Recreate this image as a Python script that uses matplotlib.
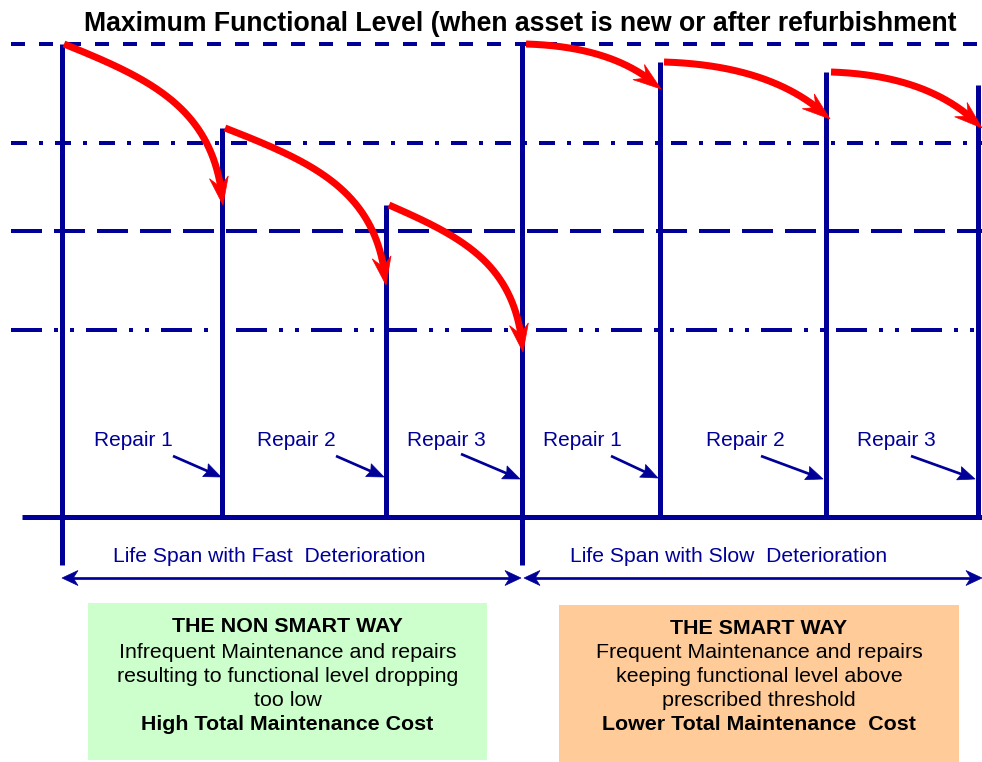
import numpy as np
import matplotlib.pyplot as plt
from matplotlib.patches import Polygon, Rectangle

plt.rcParams['font.family'] = ['Liberation Sans', 'DejaVu Sans']
plt.rcParams['lines.scale_dashes'] = False

NAVY = '#000099'
RED = '#ff0000'
PT = 0.72  # points per pixel at 100 dpi

# ---- diagram data (canvas units = pixels, y grows downward) ----
title = "Maximum Functional Level (when asset is new or after refurbishment"

threshold_y = [44, 143, 231, 330]
threshold_dash = [(14, 14), (16, 12, 4, 12), (31, 12), (31, 12, 4, 12, 4, 12)]

baseline_y = 517
post_x = [62, 222, 386, 522, 660, 826, 978]
post_top = [44, 128, 205, 42, 62, 72, 85]
post_bottom = [565, 517, 517, 565, 517, 517, 517]

# deterioration curves: start point -> arrow tip
curve_start_x = [64, 225, 389, 526, 664, 831]
curve_start_y = [44, 128, 205, 44, 62, 72]
curve_end_x = [223, 386, 523, 661, 830, 982]
curve_end_y = [205, 285, 352, 89, 119, 128]
fast_shape = [(0.55, 0.22), (0.95, 0.40)]
slow_shape = [(0.45, 0.04), (0.78, 0.38)]

repair_labels = ["Repair 1", "Repair 2", "Repair 3", "Repair 1", "Repair 2", "Repair 3"]
repair_label_x = [133, 296, 446, 582, 745, 896]
repair_label_y = 441
repair_from = [(173, 456), (336, 456), (461, 454), (611, 456), (761, 456), (911, 456)]
repair_to = [(221, 477), (384, 477), (520, 479), (658, 478), (823, 479), (975, 479)]

span_labels = ["Life Span with Fast  Deterioration", "Life Span with Slow  Deterioration"]
span_label_x = [269, 729]
span_label_y = 556
span_y = 578
span_x0 = [62, 524]
span_x1 = [521, 982]

box_x = [88, 559]
box_y = [603, 605]
box_w = [399, 400]
box_h = [157, 157]
box_colors = ['#ccffcc', '#ffcc99']
box_lines = [
    ["THE NON SMART WAY", "Infrequent Maintenance and repairs",
     "resulting to functional level dropping", "too low",
     "High Total Maintenance Cost"],
    ["THE SMART WAY", "Frequent Maintenance and repairs",
     "keeping functional level above", "prescribed threshold",
     "Lower Total Maintenance  Cost"],
]
box_line_y = [[627, 652, 676, 700, 724], [629, 653, 677, 701, 725]]
box_bold = [True, False, False, False, True]

fig = plt.figure(figsize=(9.82, 7.62), dpi=100)
ax = fig.add_axes([0, 0, 1, 1])
ax.set_xlim(0, 982)
ax.set_ylim(762, 0)
ax.axis('off')


def arrow_head(tip, direction, length, width, notch, color, z):
    d = np.asarray(direction, float)
    d /= np.linalg.norm(d)
    n = np.array([-d[1], d[0]])
    tip = np.asarray(tip, float)
    base = tip - d * length
    pts = [tip, base + n * width / 2, tip - d * length * (1 - notch), base - n * width / 2]
    ax.add_patch(Polygon(pts, closed=True, fc=color, ec=color, lw=0.5, zorder=z))


def straight_arrow(p0, p1, lw_px, length, width, notch, color, z=5, both=False):
    p0 = np.asarray(p0, float)
    p1 = np.asarray(p1, float)
    d = (p1 - p0) / np.linalg.norm(p1 - p0)
    a = p0 + d * length * 0.6 if both else p0
    b = p1 - d * length * 0.6
    ax.plot([a[0], b[0]], [a[1], b[1]], color=color, lw=lw_px * PT,
            solid_capstyle='butt', zorder=z)
    arrow_head(p1, d, length, width, notch, color, z)
    if both:
        arrow_head(p0, -d, length, width, notch, color, z)


def bezier(p0, p1, p2, p3, t):
    t = t[:, None]
    return ((1 - t) ** 3 * p0 + 3 * (1 - t) ** 2 * t * p1
            + 3 * (1 - t) * t ** 2 * p2 + t ** 3 * p3)


# threshold lines
for y, dash in zip(threshold_y, threshold_dash):
    ax.plot([11, 982], [y, y], color=NAVY, lw=4 * PT,
            dashes=[v * PT for v in dash], zorder=2)

# baseline and posts
ax.plot([22, 982], [baseline_y, baseline_y], color=NAVY, lw=5 * PT,
        solid_capstyle='butt', zorder=3)
for x, top, bot in zip(post_x, post_top, post_bottom):
    ax.plot([x, x], [top, bot], color=NAVY, lw=5 * PT,
            solid_capstyle='butt', zorder=3)

# deterioration curves
head_len, head_w, head_notch = 28, 19, 0.35
for i in range(len(curve_start_x)):
    p0 = np.array([curve_start_x[i], curve_start_y[i]], float)
    p3 = np.array([curve_end_x[i], curve_end_y[i]], float)
    shape = fast_shape if i < 3 else slow_shape
    delta = p3 - p0
    p1 = p0 + delta * np.array(shape[0])
    p2 = p0 + delta * np.array(shape[1])
    pts = bezier(p0, p1, p2, p3, np.linspace(0, 1, 400))
    dist = np.linalg.norm(pts - p3, axis=1)
    keep = dist >= head_len * 0.6
    line = pts[keep]
    ax.plot(line[:, 0], line[:, 1], color=RED, lw=7 * PT,
            solid_capstyle='butt', solid_joinstyle='round', zorder=6)
    idx = np.argmax(dist < head_len)
    arrow_head(p3, p3 - pts[idx], head_len, head_w, head_notch, RED, 6)

# repair labels and pointers
for lab, x, a, b in zip(repair_labels, repair_label_x, repair_from, repair_to):
    ax.text(x, repair_label_y, lab, color=NAVY, fontsize=15,
            ha='center', va='center')
    straight_arrow(a, b, 2.7, 17, 14, 0.15, NAVY)

# life span arrows
for lab, x, x0, x1 in zip(span_labels, span_label_x, span_x0, span_x1):
    ax.text(x, span_label_y, lab, color=NAVY, fontsize=15.2,
            ha='center', va='center')
    straight_arrow((x0, span_y), (x1, span_y), 2.7, 16, 15, 0.3, NAVY, both=True)

# summary boxes
for bx, by, bw, bh, col, lines, ys in zip(box_x, box_y, box_w, box_h,
                                          box_colors, box_lines, box_line_y):
    ax.add_patch(Rectangle((bx, by), bw, bh, fc=col, ec='none', zorder=1))
    cx = bx + bw / 2
    for txt, y, bold in zip(lines, ys, box_bold):
        ax.text(cx, y, txt, color='black', fontsize=15.4,
                fontweight='bold' if bold else 'normal',
                ha='center', va='center', zorder=2)

ax.text(520, 24, title, color='black', fontsize=19.2, fontweight='bold',
        ha='center', va='center')

fig.savefig('out.png', dpi=100)
